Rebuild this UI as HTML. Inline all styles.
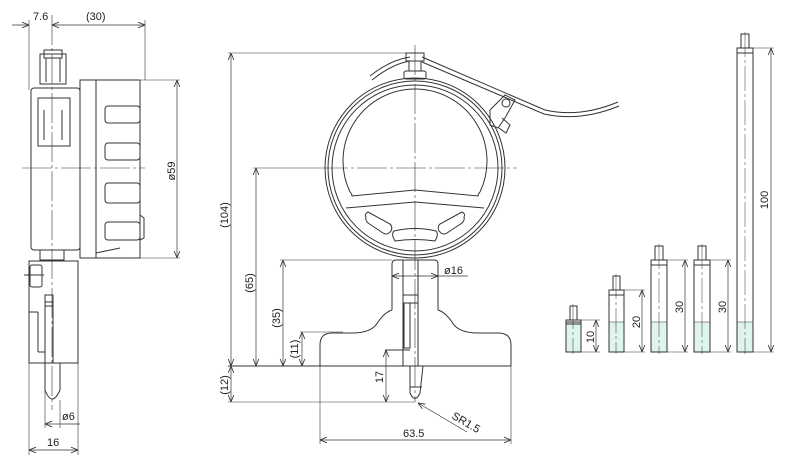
<!DOCTYPE html>
<html><head><meta charset="utf-8"><style>
html,body{margin:0;padding:0;background:#fff}
svg{display:block}
text{font-family:"Liberation Sans",sans-serif;font-size:11px;fill:#222}
</style></head><body>
<svg width="800" height="463" viewBox="0 0 800 463" xmlns="http://www.w3.org/2000/svg">
<defs>
<marker id="a" viewBox="0 0 10 10" refX="10" refY="5" markerWidth="7" markerHeight="7" orient="auto-start-reverse" markerUnits="userSpaceOnUse"><path d="M0,1 L10,5 L0,9" fill="none" stroke="#333" stroke-width="1.2"/></marker>
</defs>
<g fill="none" stroke="#333" stroke-width="1">
<!-- ===== LEFT SIDE VIEW ===== -->
<line x1="29" y1="20" x2="29" y2="90" stroke-width="0.6"/>
<line x1="145" y1="20" x2="145" y2="80" stroke-width="0.6"/>
<line x1="12" y1="25" x2="29" y2="25" marker-end="url(#a)" stroke-width="0.7"/>
<line x1="52" y1="25" x2="145" y2="25" marker-start="url(#a)" marker-end="url(#a)" stroke-width="0.7"/>
<line x1="52" y1="15" x2="52" y2="410" stroke-width="0.6" stroke-dasharray="30,3,3,3"/>
<line x1="22" y1="168" x2="145" y2="168" stroke-width="0.6" stroke-dasharray="30,3,3,3"/>
<rect x="40" y="54" width="26" height="30"/>
<rect x="44" y="50" width="18" height="8"/>
<line x1="46" y1="58" x2="46" y2="82"/><line x1="60" y1="58" x2="60" y2="82"/>
<rect x="31" y="88" width="49" height="162" rx="3"/>
<rect x="38" y="98" width="32" height="48"/>
<line x1="44" y1="110" x2="44" y2="140"/><line x1="62" y1="110" x2="62" y2="140"/>
<rect x="80" y="80" width="60" height="178"/>
<line x1="96" y1="80" x2="96" y2="258"/>
<rect x="105" y="106" width="35" height="17" rx="3"/>
<rect x="105" y="143" width="35" height="17" rx="3"/>
<rect x="105" y="183" width="35" height="20" rx="3"/>
<rect x="105" y="222" width="35" height="18" rx="3"/>
<path d="M140,215 L144,218 L144,238 L140,240"/>
<line x1="96" y1="253" x2="120" y2="248"/>
<line x1="140" y1="80" x2="180" y2="80" stroke-width="0.6"/>
<line x1="140" y1="258" x2="180" y2="258" stroke-width="0.6"/>
<line x1="177" y1="80" x2="177" y2="258" marker-start="url(#a)" marker-end="url(#a)" stroke-width="0.7"/>
<rect x="40" y="250" width="24" height="10"/>
<rect x="29" y="261" width="49" height="102"/>
<rect x="30" y="265" width="12" height="22" rx="2"/>
<line x1="24" y1="275" x2="44" y2="275"/>
<line x1="29" y1="312" x2="38" y2="312"/><line x1="38" y1="312" x2="38" y2="352"/><line x1="38" y1="352" x2="45" y2="352"/>
<rect x="45" y="295" width="8" height="68"/>
<line x1="45" y1="302" x2="53" y2="302"/><line x1="45" y1="306" x2="53" y2="306"/>
<path d="M45,363 L45,390 Q52,408 60,390 L60,363"/>
<line x1="45" y1="390" x2="45" y2="428" stroke-width="0.6"/>
<line x1="60" y1="400" x2="60" y2="428" stroke-width="0.6"/>
<line x1="45" y1="424" x2="60" y2="424" marker-start="url(#a)" stroke-width="0.7"/>
<line x1="60" y1="424" x2="80" y2="424" stroke-width="0.7"/>
<line x1="29" y1="363" x2="29" y2="455" stroke-width="0.6"/>
<line x1="78" y1="363" x2="78" y2="455" stroke-width="0.6"/>
<line x1="29" y1="450" x2="78" y2="450" marker-start="url(#a)" marker-end="url(#a)" stroke-width="0.7"/>

<!-- ===== CENTER FRONT VIEW ===== -->
<circle cx="415" cy="168" r="90"/>
<circle cx="415" cy="168" r="87"/>
<circle cx="415" cy="168" r="83"/>
<path d="M350,192 A72,72 0 1 1 480,192"/>
<path d="M350,192 Q352,194 352,196 L415,190 L478,196 Q478,194 480,192"/>
<path d="M346,208 L415,202 L484,208"/>
<path d="M366,217 Q364,214 368,212 L390,224 Q393,227 391,231 L389,233 Q386,235 383,233 L368,223 Q365,220 366,217 Z"/>
<path d="M394,231 Q415,226 436,231 Q438,233 437,237 L435,241 Q415,238 395,241 L393,237 Q392,233 394,231 Z"/>
<path d="M464,217 Q466,214 462,212 L440,224 Q437,227 439,231 L441,233 Q444,235 447,233 L462,223 Q465,220 464,217 Z"/>
<rect x="406" y="53" width="18" height="8"/>
<rect x="409" y="61" width="12" height="10"/>
<rect x="404" y="71" width="22" height="8" rx="2"/>
<path d="M370,76 Q390,60 410,57"/>
<path d="M372,80 Q392,64 410,61"/>
<path d="M422,57 L545,110 Q580,118 618,102"/>
<path d="M422,62 L544,114 Q580,122 619,106"/>
<path d="M490,110 L505,95 L515,100 L505,118 L498,128 L490,125 Z"/>
<circle cx="506" cy="103" r="4"/>
<path d="M502,118 L510,125 L506,133 L499,128"/>
<line x1="415" y1="45" x2="415" y2="402" stroke-width="0.6" stroke-dasharray="30,3,3,3"/>
<line x1="318" y1="168" x2="517" y2="168" stroke-width="0.6" stroke-dasharray="30,3,3,3"/>
<path d="M392,264 Q392,260 396,260 L434,260 Q438,260 438,264 L438,310"/>
<line x1="392" y1="264" x2="392" y2="310"/>
<path d="M392,310 Q385,312 378,322 Q372,333 352,333 L332,333 Q320,333 320,345 L320,366"/>
<path d="M438,310 Q445,312 452,322 Q458,333 478,333 L498,333 Q511,333 511,345 L511,366"/>
<line x1="228" y1="366" x2="511" y2="366"/>
<rect x="403" y="260" width="15" height="106"/>
<rect x="403" y="295" width="15" height="8"/>
<rect x="404" y="303" width="6" height="45"/>
<line x1="385" y1="350" x2="410" y2="350"/>
<path d="M410,366 L410,393 Q415,404 420,393 L423,366"/>
<line x1="410" y1="387" x2="422" y2="387"/>
<line x1="392" y1="276" x2="438" y2="276" marker-start="url(#a)" marker-end="url(#a)" stroke-width="0.7"/>
<line x1="438" y1="276" x2="468" y2="276" stroke-width="0.7"/>
<line x1="228" y1="53" x2="406" y2="53" stroke-width="0.6"/>
<line x1="231" y1="53" x2="231" y2="366" marker-start="url(#a)" marker-end="url(#a)" stroke-width="0.7"/>
<line x1="253" y1="168" x2="318" y2="168" stroke-width="0.6"/>
<line x1="256" y1="168" x2="256" y2="366" marker-start="url(#a)" marker-end="url(#a)" stroke-width="0.7"/>
<line x1="280" y1="260" x2="392" y2="260" stroke-width="0.6"/>
<line x1="283" y1="260" x2="283" y2="366" marker-start="url(#a)" marker-end="url(#a)" stroke-width="0.7"/>
<line x1="300" y1="332" x2="343" y2="332" stroke-width="0.6"/>
<line x1="302" y1="332" x2="302" y2="366" marker-start="url(#a)" marker-end="url(#a)" stroke-width="0.7"/>
<line x1="228" y1="402" x2="415" y2="402" stroke-width="0.6"/>
<line x1="231" y1="366" x2="231" y2="402" marker-start="url(#a)" marker-end="url(#a)" stroke-width="0.7"/>
<line x1="386" y1="350" x2="386" y2="402" marker-start="url(#a)" marker-end="url(#a)" stroke-width="0.7"/>
<line x1="320" y1="366" x2="320" y2="444" stroke-width="0.6"/>
<line x1="511" y1="366" x2="511" y2="444" stroke-width="0.6"/>
<line x1="320" y1="440" x2="511" y2="440" marker-start="url(#a)" marker-end="url(#a)" stroke-width="0.7"/>
<line x1="467" y1="432" x2="418" y2="403" marker-end="url(#a)" stroke-width="0.7"/>

<!-- ===== RODS ===== -->
<g>
<rect x="566" y="322" width="15" height="30" fill="#dff3ef"/>
<rect x="566" y="320" width="15" height="32"/><line x1="566" y1="324" x2="581" y2="324"/>
<rect x="570" y="306" width="7" height="14"/>
<line x1="581" y1="320" x2="600" y2="320" stroke-width="0.6"/><line x1="581" y1="352" x2="600" y2="352" stroke-width="0.6"/>
<line x1="596" y1="320" x2="596" y2="352" marker-start="url(#a)" marker-end="url(#a)" stroke-width="0.7"/>
<rect x="609" y="322" width="15" height="30" fill="#dff3ef" stroke="none"/>
<rect x="609" y="290" width="15" height="62"/><line x1="609" y1="295" x2="624" y2="295"/><line x1="609" y1="322" x2="624" y2="322" stroke-width="0.5"/>
<rect x="613" y="276" width="7" height="14"/>
<line x1="624" y1="290" x2="645" y2="290" stroke-width="0.6"/><line x1="624" y1="352" x2="645" y2="352" stroke-width="0.6"/>
<line x1="642" y1="290" x2="642" y2="352" marker-start="url(#a)" marker-end="url(#a)" stroke-width="0.7"/>
<rect x="651" y="322" width="16" height="30" fill="#dff3ef" stroke="none"/>
<rect x="651" y="260" width="16" height="92"/><line x1="651" y1="265" x2="667" y2="265"/><line x1="651" y1="322" x2="667" y2="322" stroke-width="0.5"/>
<rect x="655" y="246" width="8" height="14"/>
<line x1="667" y1="260" x2="688" y2="260" stroke-width="0.6"/><line x1="667" y1="352" x2="688" y2="352" stroke-width="0.6"/>
<line x1="685" y1="260" x2="685" y2="352" marker-start="url(#a)" marker-end="url(#a)" stroke-width="0.7"/>
<rect x="694" y="322" width="16" height="30" fill="#dff3ef" stroke="none"/>
<rect x="694" y="260" width="16" height="92"/><line x1="694" y1="265" x2="710" y2="265"/><line x1="694" y1="322" x2="710" y2="322" stroke-width="0.5"/>
<rect x="698" y="246" width="8" height="14"/>
<line x1="710" y1="260" x2="731" y2="260" stroke-width="0.6"/><line x1="710" y1="352" x2="731" y2="352" stroke-width="0.6"/>
<line x1="728" y1="260" x2="728" y2="352" marker-start="url(#a)" marker-end="url(#a)" stroke-width="0.7"/>
<rect x="737" y="322" width="16" height="30" fill="#dff3ef" stroke="none"/>
<rect x="737" y="48" width="16" height="304"/><line x1="737" y1="53" x2="753" y2="53"/><line x1="737" y1="322" x2="753" y2="322" stroke-width="0.5"/>
<rect x="741" y="34" width="8" height="14"/>
<line x1="753" y1="48" x2="774" y2="48" stroke-width="0.6"/><line x1="753" y1="352" x2="774" y2="352" stroke-width="0.6"/>
<line x1="771" y1="48" x2="771" y2="352" marker-start="url(#a)" marker-end="url(#a)" stroke-width="0.7"/>
<g stroke-width="0.5" stroke-dasharray="25,3,3,3">
<line x1="573" y1="304" x2="573" y2="354"/><line x1="616" y1="274" x2="616" y2="354"/><line x1="659" y1="244" x2="659" y2="354"/><line x1="702" y1="244" x2="702" y2="354"/><line x1="745" y1="32" x2="745" y2="354"/>
</g>
</g>
</g>
<text x="33" y="20">7.6</text>
<text x="86" y="20">(30)</text>
<text transform="translate(175,171) rotate(-90)" text-anchor="middle">ø59</text>
<text x="62" y="420">ø6</text>
<text x="47" y="446">16</text>
<text transform="translate(228,215) rotate(-90)" text-anchor="middle">(104)</text>
<text transform="translate(253,283) rotate(-90)" text-anchor="middle">(65)</text>
<text transform="translate(280,318) rotate(-90)" text-anchor="middle">(35)</text>
<text transform="translate(298,349) rotate(-90)" text-anchor="middle">(11)</text>
<text transform="translate(228,385) rotate(-90)" text-anchor="middle">(12)</text>
<text transform="translate(383,377) rotate(-90)" text-anchor="middle">17</text>
<text x="444" y="274">ø16</text>
<text x="403" y="437">63.5</text>
<text transform="translate(451,418) rotate(30)">SR1.5</text>
<text transform="translate(594,337) rotate(-90)" text-anchor="middle">10</text>
<text transform="translate(640,322) rotate(-90)" text-anchor="middle">20</text>
<text transform="translate(683,307) rotate(-90)" text-anchor="middle">30</text>
<text transform="translate(726,307) rotate(-90)" text-anchor="middle">30</text>
<text transform="translate(768,200) rotate(-90)" text-anchor="middle">100</text>
</svg>
</body></html>
